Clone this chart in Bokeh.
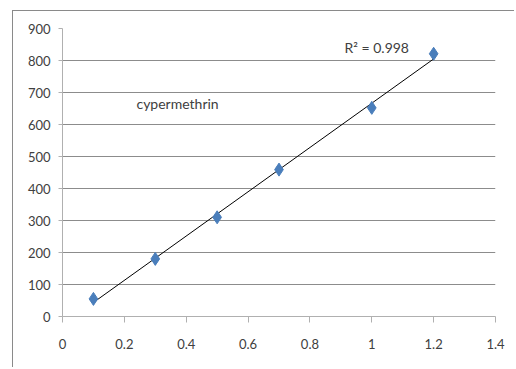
import numpy as np
from bokeh.plotting import figure
from bokeh.models import Range1d, FixedTicker, Label
from bokeh.embed import file_html
from bokeh.resources import INLINE

# data
conc = [0.1, 0.3, 0.5, 0.7, 1.0, 1.2]
area = [55, 180, 310, 459, 652, 821]
x_ticks = [0, 0.2, 0.4, 0.6, 0.8, 1.0, 1.2, 1.4]
y_ticks = [0, 100, 200, 300, 400, 500, 600, 700, 800, 900]
compound_label = "cypermethrin"
r2_label = "R\u00b2 = 0.998"

FONT = "Lato"
TXT = "#404040"

p = figure(width=502, height=357, output_backend="svg", toolbar_location=None,
           x_range=Range1d(0, 1.4), y_range=Range1d(0, 900),
           min_border_left=49, min_border_right=20, min_border_top=17, min_border_bottom=52,
           styles={"border-left": "1px solid #8a8a8a", "border-top": "1px solid #8a8a8a"})
p.margin = (10, 0, 0, 12)
p.outline_line_color = None
p.background_fill_color = "white"
p.border_fill_color = "white"

p.xgrid.grid_line_color = None
p.ygrid.grid_line_color = "#8c8c8c"
p.ygrid.grid_line_width = 1

p.xaxis.ticker = FixedTicker(ticks=x_ticks)
p.yaxis.ticker = FixedTicker(ticks=y_ticks)
p.xaxis.major_label_overrides = {0: "0", 1.0: "1"}
for ax in (p.xaxis, p.yaxis):
    ax.axis_line_color = "#b0b0b0"
    ax.major_tick_line_color = "#b0b0b0"
    ax.minor_tick_line_color = None
    ax.major_tick_in = 0
    ax.major_label_text_font = FONT
    ax.major_label_text_font_size = "13px"
    ax.major_label_text_color = TXT
p.xaxis.major_tick_out = 6
p.yaxis.major_tick_out = 4
p.xaxis.major_label_standoff = 16
p.yaxis.major_label_standoff = 8

# trendline (least squares)
k, b = np.polyfit(conc, area, 1)
xs = [min(conc), max(conc)]
p.line(xs, [k * v + b for v in xs], line_color="black", line_width=1)

p.scatter(conc, area, marker="diamond", size=13, fill_color="#4a7ebb", line_color="#4a7ebb")

p.add_layout(Label(x=0.372, y=666, text=compound_label, text_font=FONT, text_font_size="14px",
                   text_color=TXT, text_align="center", text_baseline="middle"))
p.add_layout(Label(x=1.016, y=841, text=r2_label, text_font=FONT, text_font_size="14px",
                   text_color=TXT, text_align="center", text_baseline="middle"))

open("out.html", "w").write(file_html(p, INLINE))
